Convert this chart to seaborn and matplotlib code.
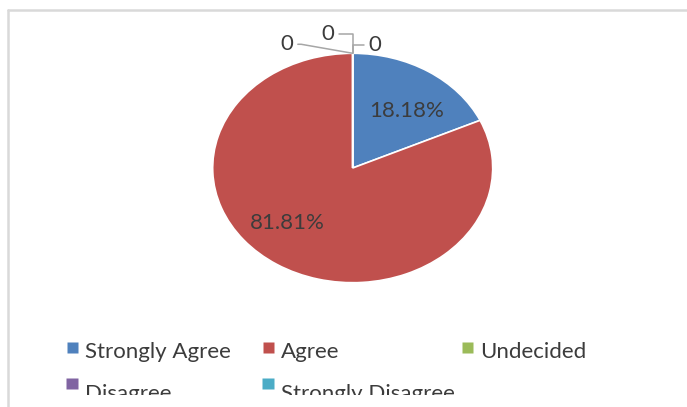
import numpy as np
import matplotlib.pyplot as plt
import matplotlib.transforms as mtransforms
from matplotlib.lines import Line2D
from matplotlib.patches import Rectangle
from matplotlib.path import Path
import seaborn as sns

sns.set_theme(style="white")
plt.rcParams["font.family"] = ["Lato", "DejaVu Sans"]

# chart data
categories = ["Strongly Agree", "Agree", "Undecided", "Disagree", "Strongly Disagree"]
values = [18.18, 81.81, 0, 0, 0]
colors = ["#4F81BD", "#C0504D", "#9BBB59", "#8064A2", "#4BACC6"]
zero_offsets = [(-47.5, 6.5), (-17.6, 14.0), (15.8, 5.8)]  # label offsets (pt) for the 0 slices
pct_nudge = [(3, -5), (-11, 6.5), (0, 0), (0, 0), (0, 0)]   # Excel places % labels a bit off-centre

W, H = 687, 407
txt_col = "#3C3C3C"
fs = 16

fig = plt.figure(figsize=(W / 100, H / 100), dpi=100)
fig.patch.set_facecolor("white")

# pie is an ellipse in the original, so use an axes with auto aspect
ax = fig.add_axes([212.7 / W, (H - 282.7) / H, 280 / W, 229.4 / H])
total = sum(values)


def fmt(p):
    v = p * total / 100
    return f"{v:.2f}%" if v > 0 else ""


wedges, texts, autotexts = ax.pie(
    values, colors=sns.color_palette(colors), startangle=90, counterclock=False,
    wedgeprops=dict(edgecolor="white", linewidth=1.2),
    autopct=fmt, pctdistance=0.66,
    textprops=dict(color=txt_col, fontsize=fs))
for t, (dx, dy) in zip(autotexts, pct_nudge):
    t.set_transform(mtransforms.offset_copy(ax.transData, fig=fig, x=dx, y=dy, units="points"))
ax.set_aspect("auto")
ax.set_xlim(-1, 1)
ax.set_ylim(-1, 1)
ax.axis("off")

# leader lines + "0" labels for empty slices
conn = ["arc,angleA=0,angleB=0,armA=8,armB=0,rad=0",
        "angle,angleA=0,angleB=90,rad=0",
        "angle,angleA=180,angleB=90,rad=0"]
zero_wedges = [w for w, v in zip(wedges, values) if v == 0]
for w, off, cs in zip(zero_wedges, zero_offsets, conn):
    th = np.deg2rad(w.theta1)
    right = off[0] < 0
    ax.annotate("0", xy=(np.cos(th), np.sin(th)), xytext=off, textcoords="offset points",
                ha="center", va="center", fontsize=fs, color=txt_col, annotation_clip=False,
                arrowprops=dict(arrowstyle="-", color="#A6A6A6", lw=1.1, shrinkA=1, shrinkB=0,
                                relpos=(1, 0.5) if right else (0, 0.5), connectionstyle=cs))


def square_marker(side, lift):
    # square of `side` px whose centre sits `lift` px above the text centre
    h = side / 2
    verts = [(-h, lift - h), (h, lift - h), (h, lift + h), (-h, lift + h), (-h, lift - h)]
    size_pt = 2 * (lift + h) / 100 * 72
    return Path(verts, closed=True), size_pt


# legend: Excel-like grid with equal column widths, one entry at a time
col_x = [66, 262, 461]
row_y = [341.5, 384]
row_lift = [2.5, 8.5]
for i, (cat, c) in enumerate(zip(categories, colors)):
    r, k = divmod(i, 3)
    path, ms = square_marker(11, row_lift[r])
    h = Line2D([], [], marker=path, ls="", markerfacecolor=c, markeredgecolor="none", markersize=ms)
    fig.legend([h], [cat], loc="upper left", bbox_to_anchor=(col_x[k] / W, 1 - row_y[r] / H),
               frameon=False, fontsize=fs, labelcolor=txt_col, borderpad=0,
               handlelength=0.55, handletextpad=0.3, borderaxespad=0)

# bottom of chart area is cut off
fig.patches.append(Rectangle((9 / W, 0), 1, 12 / H, transform=fig.transFigure,
                             facecolor="white", edgecolor="none", zorder=10))
# chart border (left and top visible)
fig.lines.append(Line2D([7.5 / W, 7.5 / W], [0, 1 - 9.5 / H], transform=fig.transFigure,
                        color="#D9D9D9", lw=1.8, zorder=11))
fig.lines.append(Line2D([7.5 / W, 1], [1 - 9.5 / H, 1 - 9.5 / H], transform=fig.transFigure,
                        color="#D9D9D9", lw=1.8, zorder=11))

fig.savefig("out.png", dpi=100)
